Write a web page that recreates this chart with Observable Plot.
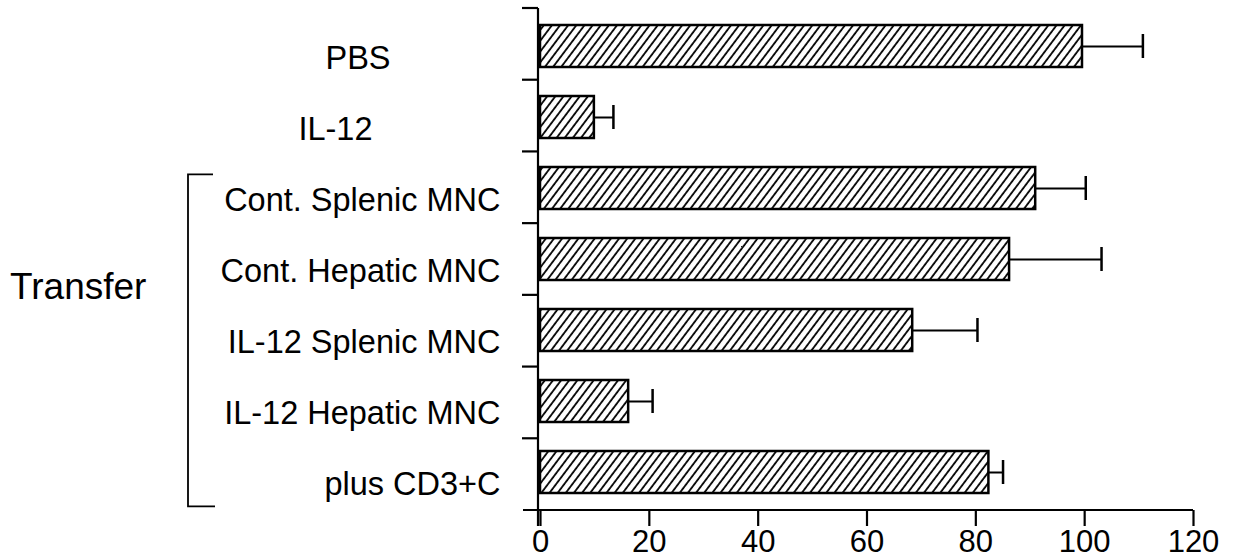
<!DOCTYPE html>
<html>
<head>
<meta charset="utf-8">
<script src="https://cdn.jsdelivr.net/npm/d3@7"></script>
<script src="https://cdn.jsdelivr.net/npm/@observablehq/plot@0.6"></script>
<style>
  html, body { margin: 0; padding: 0; background: white; }
  #chart svg { display: block; }
</style>
</head>
<body>
<div id="chart"></div>
<script>
// ---- data ----
const categories = ["PBS", "IL-12", "Cont. Splenic MNC", "Cont. Hepatic MNC", "IL-12 Splenic MNC", "IL-12 Hepatic MNC", "plus CD3+C"];
const values = [99.6, 9.9, 91.0, 86.2, 68.4, 16.2, 82.4];
const errors = [11.1, 3.5, 9.2, 16.9, 11.9, 4.4, 2.6];
const xTicks = [0, 20, 40, 60, 80, 100, 120];
const groupLabel = "Transfer";
const groupStart = "Cont. Splenic MNC";
const groupEnd = "plus CD3+C";

const data = categories.map((c, i) => ({label: c, value: values[i], err: errors[i]}));

const W = 1240, H = 560;
const mL = 540, mR = 47, mT = 8, mB = 50;
const FONT = "'Liberation Sans', Arial, sans-serif";

function decorations(index, scales, vals, dims) {
  const g = d3.create("svg:g");
  const defs = g.append("defs");
  const pat = defs.append("pattern")
    .attr("id", "hatch")
    .attr("patternUnits", "userSpaceOnUse")
    .attr("width", 6.5).attr("height", 10)
    .attr("patternTransform", "rotate(37)");
  pat.append("rect").attr("width", 6.5).attr("height", 10).attr("fill", "white");
  pat.append("line").attr("x1", 1).attr("y1", 0).attr("x2", 1).attr("y2", 10)
    .attr("stroke", "black").attr("stroke-width", 1.8);

  const x = scales.x;
  const top = dims.marginTop, bottom = dims.height - dims.marginBottom;
  const n = categories.length;
  const step = (bottom - top) / n;
  const x0 = x(0);
  const boundary = (i) => top + i * step;
  const stroke = "black";
  // left axis line
  g.append("line").attr("x1", x0 - 2).attr("x2", x0 - 2).attr("y1", top).attr("y2", bottom + 16)
    .attr("stroke", stroke).attr("stroke-width", 2.2);
  // bottom axis line
  g.append("line").attr("x1", x0 - 17).attr("x2", x(xTicks[xTicks.length - 1])).attr("y1", bottom).attr("y2", bottom)
    .attr("stroke", stroke).attr("stroke-width", 2.2);
  // band boundary ticks
  for (let i = 0; i < n; i++) {
    g.append("line").attr("x1", x0 - 18).attr("x2", x0 - 2).attr("y1", boundary(i)).attr("y2", boundary(i))
      .attr("stroke", stroke).attr("stroke-width", 2.2);
  }
  // bracket
  const iS = categories.indexOf(groupStart), iE = categories.indexOf(groupEnd);
  const bx = x0 - 352, armx = bx + 25;
  const by1 = boundary(iS) + 0.32 * step, by2 = boundary(iE + 1) - 0.05 * step;
  g.append("path")
    .attr("d", `M${armx},${by1}H${bx}V${by2}H${armx + 2}`)
    .attr("fill", "none").attr("stroke", stroke).attr("stroke-width", 1.8);
  // group label
  g.append("text")
    .attr("x", x0 - 530).attr("y", boundary(4) + 4)
    .attr("text-anchor", "start")
    .attr("font-size", 37).attr("fill", "black")
    .attr("font-family", FONT)
    .text(groupLabel);
  return g.node();
}

const rightLabels = categories.slice(2);

const chart = Plot.plot({
  width: W,
  height: H,
  marginLeft: mL,
  marginRight: mR,
  marginTop: mT,
  marginBottom: mB,
  style: {fontFamily: FONT, fontSize: "32px", background: "white", color: "black"},
  x: {domain: [0, 120], label: null},
  y: {domain: categories, paddingInner: 0.41, paddingOuter: 0.205, label: null},
  marks: [
    Plot.barX(data, {x: "value", y: "label", fill: "url(#hatch)", stroke: "black", strokeWidth: 2.5}),
    Plot.ruleY(data, {y: "label", x1: "value", x2: d => d.value + d.err, stroke: "black", strokeWidth: 2}),
    Plot.tickX(data, {x: d => d.value + d.err, y: "label", insetTop: 9, insetBottom: 9, stroke: "black", strokeWidth: 2.5}),
    Plot.axisX({ticks: xTicks, tickSize: 16, tickPadding: 3, fontSize: 31, strokeWidth: 2.2, label: null,
      style: {letterSpacing: "3px"}}),
    Plot.axisY(rightLabels, {tickSize: 0, tickPadding: 40, fontSize: 32.5, dy: 12, label: null}),
    Plot.axisY(["PBS"], {tickSize: 0, tickPadding: 150, fontSize: 32.5, dy: 12, label: null}),
    Plot.axisY(["IL-12"], {tickSize: 0, tickPadding: 168, fontSize: 32.5, dy: 12, label: null}),
    decorations
  ]
});
document.getElementById("chart").appendChild(chart);
</script>
</body>
</html>
